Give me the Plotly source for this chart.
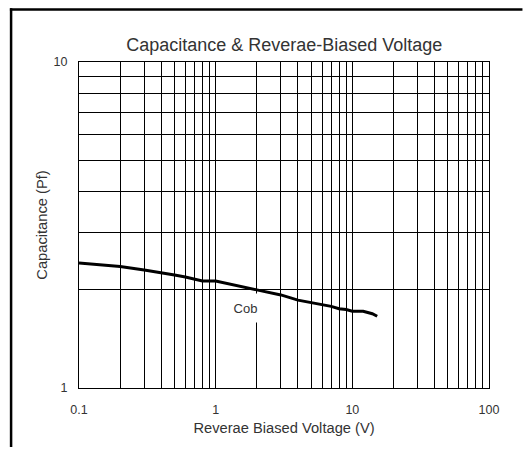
import math
import plotly.graph_objects as go

# Data
voltage = [0.1, 0.2, 0.3, 0.4, 0.5, 0.6, 0.7, 0.8, 0.9, 1.0, 2.0, 3.0, 4.0, 5.0, 6.0, 7.0, 8.0, 9.0, 10.0, 12.0, 14.0, 15.2]
capacitance = [2.42, 2.36, 2.30, 2.26, 2.22, 2.19, 2.16, 2.13, 2.13, 2.13, 2.00, 1.93, 1.86, 1.83, 1.80, 1.78, 1.75, 1.74, 1.72, 1.72, 1.69, 1.66]

x_grid = [round(m * d, 3) for d in (0.1, 1, 10) for m in range(1, 10)] + [100]
x_major = {0.1: "0.1", 1: "1", 10: "10", 100: "100"}
x_labels = [x_major.get(v, "") for v in x_grid]
y_grid = list(range(1, 11))
y_labels = ["1"] + [""] * 8 + ["10"]

series_label = "Cob"
label_x = 2.0
label_y = 1.76

# page body has an 8px margin on every side; size the figure so nothing scrolls
OFF = 8
W, H = 531 - 2 * OFF, 455 - 2 * OFF
L = 79 - OFF
T = 62 - OFF
R = W - (489.5 - OFF)
B = H - (388 - OFF)
pw = W - L - R
ph = H - T - B

font_family = "Liberation Sans, Arial, sans-serif"
txt = "#333333"

fig = go.Figure()
fig.add_trace(go.Scatter(
    x=voltage, y=capacitance, mode="lines",
    line=dict(color="black", width=3), hoverinfo="skip", showlegend=False,
))

fig.add_annotation(
    x=math.log10(label_x), y=math.log10(label_y), xref="x", yref="y",
    text=series_label, showarrow=False, bgcolor="white",
    font=dict(family=font_family, size=13, color=txt),
    xshift=-11, width=27, height=28, borderpad=0,
)

fig.update_xaxes(
    type="log", range=[-1, 2], tickvals=x_grid, ticktext=x_labels,
    showgrid=True, gridcolor="black", gridwidth=1,
    showline=True, linecolor="black", linewidth=1, mirror=True,
    ticks="", ticklabelstandoff=10, zeroline=False, automargin=False,
    tickfont=dict(family=font_family, size=12.5, color=txt),
    title=dict(text="Reverae Biased Voltage (V)", standoff=6,
               font=dict(family=font_family, size=14.7, color=txt)),
)
fig.update_yaxes(
    type="log", range=[0, 1], tickvals=y_grid, ticktext=y_labels,
    showgrid=True, gridcolor="black", gridwidth=1,
    showline=True, linecolor="black", linewidth=1, mirror=True,
    ticks="", ticklabelstandoff=8, zeroline=False, automargin=False,
    tickfont=dict(family=font_family, size=12.5, color=txt),
    title=dict(text="Capacitance (Pf)", standoff=2,
               font=dict(family=font_family, size=14.7, color=txt)),
)

# outer frame: only left and top edges are visible in the view
bx0 = 11 - OFF
by0 = 8.5 - OFF + 1
def px_x(p):
    return (p - L) / pw
def px_y(p):
    return (T + ph - p) / ph
fig.add_shape(type="line", xref="paper", yref="paper",
              x0=px_x(bx0), x1=px_x(bx0), y0=px_y(by0 - 1.2), y1=px_y(H),
              line=dict(color="black", width=2.5), layer="above")
fig.add_shape(type="line", xref="paper", yref="paper",
              x0=px_x(bx0 - 1.2), x1=px_x(W), y0=px_y(by0), y1=px_y(by0),
              line=dict(color="black", width=2.5), layer="above")

fig.update_layout(
    width=W, height=H,
    margin=dict(l=L, r=R, t=T, b=B, autoexpand=False),
    paper_bgcolor="white", plot_bgcolor="white",
    title=dict(text="Capacitance & Reverae-Biased Voltage", x=(L + pw / 2) / W, xanchor="center",
               y=1 - (45 - OFF) / H, yanchor="middle", yref="container",
               font=dict(family=font_family, size=18, color=txt)),
    showlegend=False,
)

fig.write_html("out.html")
